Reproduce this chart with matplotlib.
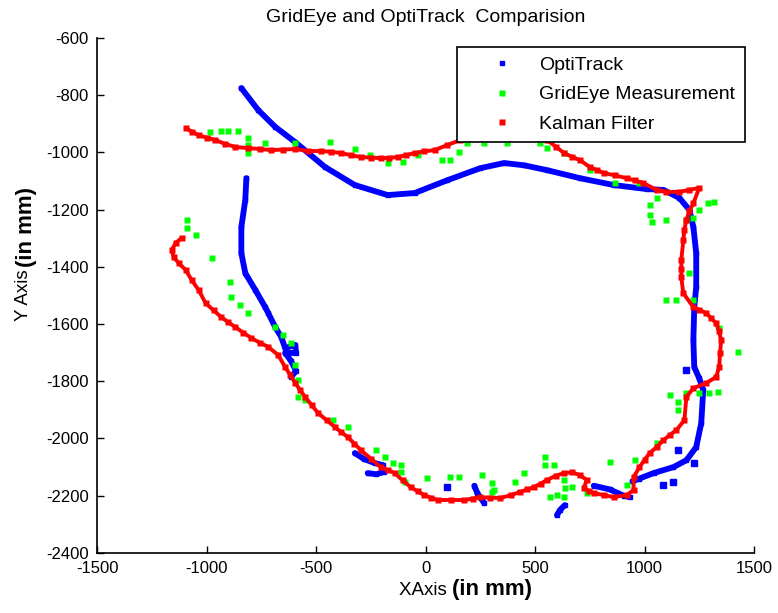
import matplotlib
matplotlib.use("Agg")
import matplotlib.pyplot as plt
import numpy as np

plt.rcParams['font.family'] = ['Liberation Sans', 'DejaVu Sans']
plt.rcParams['axes.unicode_minus'] = False

nan = np.nan

# OptiTrack trajectory (mm), NaN marks tracking gaps
opti_x = [-818, -823, -841, -841, -823, -777, -732, -718, -686, -659, -641, -595, -591, -641, -614, -591, -614,
          nan, -323, -280, -232, -195,
          nan, -264, -225, -190,
          nan, 223, 236, 268,
          nan, 636, 614, 600,
          nan, 768, 841, 905, 932,
          nan, 945, 977, 1041, 1132, 1191, 1236, 1259, 1268, 1250, 1227, 1223, 1227, 1236, 1236, 1223,
          1205, 1159, 1086, 1009, 859, 705, 555, 450, 359, 250, 100, -50, -173, -323, -459, -595,
          -686, -764, -841]
opti_y = [-1090, -1166, -1261, -1352, -1422, -1481, -1541, -1562, -1611, -1645, -1684, -1673, -1701, -1701, -1729, -1764, -1785,
          nan, -2051, -2072, -2086, -2093,
          nan, -2121, -2125, -2117,
          nan, -2165, -2190, -2226,
          nan, -2233, -2250, -2268,
          nan, -2165, -2178, -2200, -2205,
          nan, -2150, -2140, -2121, -2100, -2076, -2030, -1946, -1831, -1790, -1750, -1656, -1541, -1471, -1352, -1261,
          -1201, -1159, -1131, -1128, -1114, -1090, -1062, -1045, -1037, -1055, -1097, -1142, -1149, -1114, -1051, -964,
          -911, -852, -775]

# isolated OptiTrack samples
opti_stray_x = [100, 1086, 1132, 1227, 1191, 1155]
opti_stray_y = [-2170, -2163, -2152, -2086, -1761, -2041]

# GridEye raw measurements (mm)
grid_x = [-982, -936, -900, -854, -809, -809, -809, -732, -595, -436, -323, -255, -173, -105, -36, 77, 114, 155,
          191, 268, 373, 523, 555, 632, 750, 864, 977, 1055, 1023, 1023, 1032, 1100, 1191, 1223, 1250, 1291,
          1318, 1205, 1100, 1145, 1223, 1341, 1427,
          1114, 1155, 1155, 1191, 1250, 1295, 1336, 1055, 955, 841, 545, 545, 586, 632, 668, 636, 632, 568,
          600, 450, 409, 305, 305, 259, 155, 114, 918, 736,
          -1091, -1091, -1050, -977, -891, -886, -845, -809, -686, -650, -614, -595, -582, -582, -550, -423,
          -355, -227, -186, -150, -114, -114, -95, 9, 314]
grid_y = [-929, -925, -925, -925, -950, -974, -1002, -967, -967, -964, -988, -1009, -1037, -1034, -1009, -1027, -1027, -999,
          -967, -967, -967, -967, -985, -1002, -1062, -1107, -1107, -1159, -1184, -1219, -1243, -1236, -1236, -1229, -1201, -1177,
          -1173, -1422, -1516, -1516, -1516, -1614, -1698,
          -1848, -1873, -1901, -1841, -1841, -1841, -1838, -2016, -2076, -2083, -2065, -2093, -2093, -2145, -2170, -2173, -2205, -2205,
          -2198, -2121, -2152, -2156, -2187, -2128, -2135, -2135, -2163, -2191,
          -1236, -1264, -1289, -1369, -1453, -1506, -1534, -1562, -1611, -1639, -1666, -1743, -1796, -1855, -1866, -1936,
          -1960, -2041, -2065, -2086, -2093, -2117, -2152, -2138, -2180]

# Kalman filter estimate (mm)
kal_x = [-1114, -1141, -1159, -1150, -1127, -1095, -1068, -1036, -1004, -968, -932, -900, -868, -832, -795, -757,
         -718, -673, -641, -618, -595, -573, -550, -520, -491, -450, -414, -385, -355, -325, -295, -250, -205, -173,
         -141, -105, -68, -35, -5, 25, 55, 115, 177, 215, 250, 295, 341, 390, 432, 465, 495, 525, 555, 595, 632,
         668, 705, 736, 723, 745, 768, 815, 859, 918, 950, 950, 977, 1000, 1023, 1055, 1086, 1115, 1145, 1182,
         1191, 1223, 1282, 1327, 1341, 1345, 1350, 1340, 1327, 1305, 1282, 1250, 1223, 1177, 1168, 1168, 1168,
         1177, 1182, 1191, 1205, 1223, 1250, 1205, 1159, 1100, 1055, 995, 955, 918, 865, 814, 782, 750, 705,
         668, 632, 595, 555, 418, 282, 159, 100, 41, -5, -50, -90, -127, -165, -205, -250, -295, -340, -386,
         -430, -477, -536, -595, -650, -704, -755, -809, -868, -915, -959, -1000, -1036, -1065, -1095]
kal_y = [-1299, -1317, -1341, -1366, -1387, -1411, -1446, -1481, -1527, -1552, -1576, -1594, -1611, -1630, -1649, -1665,
         -1680, -1708, -1750, -1778, -1806, -1830, -1855, -1883, -1911, -1937, -1960, -1978, -1995, -2018, -2041, -2070, -2100, -2110,
         -2121, -2146, -2170, -2185, -2198, -2207, -2215, -2215, -2215, -2210, -2205, -2207, -2208, -2198, -2187, -2178, -2170, -2158, -2145, -2130, -2121,
         -2118, -2128, -2145, -2173, -2183, -2191, -2198, -2205, -2198, -2180, -2135, -2100, -2075, -2051, -2030, -2006, -1988, -1971, -1936,
         -1855, -1824, -1806, -1785, -1750, -1700, -1656, -1625, -1597, -1580, -1562, -1550, -1541, -1492, -1436, -1406, -1376,
         -1306, -1270, -1236, -1205, -1177, -1124, -1131, -1138, -1138, -1131, -1107, -1098, -1090, -1080, -1072, -1062, -1051, -1027,
         -1015, -1002, -980, -957, -943, -950, -957, -974, -992, -996, -1002, -1010, -1016, -1019, -1020, -1018, -1016, -1010, -1002,
         -998, -995, -995, -988, -990, -992, -988, -985, -981, -970, -957, -948, -940, -928, -915]

fig = plt.figure(figsize=(7.78, 6.13), dpi=100)
ax = fig.add_axes([0.1247, 0.098, 0.8445, 0.840])

ax.plot(opti_x, opti_y, '-', color=(0, 0, 1), lw=4.2, solid_capstyle='round')
ax.plot(opti_x, opti_y, 's', color=(0, 0, 1), ms=3.5, label='OptiTrack')
ax.plot(opti_stray_x, opti_stray_y, 's', color=(0, 0, 1), ms=4)
ax.plot(grid_x, grid_y, 's', color=(0, 1, 0), ms=4.5, mec='none', label='GridEye Measurement')
ax.plot(kal_x, kal_y, '-', color=(1, 0, 0), lw=2.8, solid_capstyle='round')
ax.plot(kal_x, kal_y, 's', color=(1, 0, 0), ms=4, mec='none', label='Kalman Filter')

ax.set_xlim(-1500, 1500)
ax.set_ylim(-2400, -600)
ax.set_xticks(np.arange(-1500, 1501, 500))
ax.set_yticks(np.arange(-2400, -599, 200))
ax.tick_params(direction='in', length=5, width=1, labelsize=12, pad=6, top=False, right=False)
for s in ['top', 'right']:
    ax.spines[s].set_visible(False)
for s in ['left', 'bottom']:
    ax.spines[s].set_linewidth(1.2)

leg = ax.legend(loc='upper right', bbox_to_anchor=(0.986, 0.983), fontsize=14, numpoints=1,
                fancybox=False, framealpha=1, edgecolor='black', handlelength=3.6,
                handletextpad=0.1, borderpad=0.5, labelspacing=0.6, borderaxespad=0)
leg.get_frame().set_linewidth(1.2)

fig.text(0.547, 0.972, 'GridEye and OptiTrack  Comparision', ha='center', va='center', fontsize=14)

fig.text(0.581, 0.030, 'XAxis ', ha='right', va='baseline', fontsize=13.5)
fig.text(0.581, 0.030, '(in mm)', ha='left', va='baseline', fontsize=16, fontweight='bold')

fig.text(0.030, 0.560, 'Y Axis', rotation=90, ha='center', va='top', fontsize=13.5)
fig.text(0.034, 0.565, '(in mm)', rotation=90, ha='center', va='bottom', fontsize=16, fontweight='bold')

fig.savefig('out.png', dpi=100)
